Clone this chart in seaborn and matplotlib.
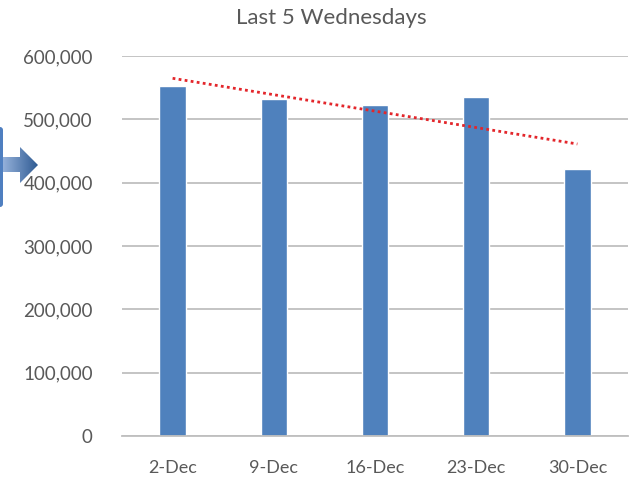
import numpy as np
import pandas as pd
import matplotlib
matplotlib.use("Agg")
import matplotlib.pyplot as plt
import matplotlib.ticker as mticker
from matplotlib.patches import Polygon, FancyBboxPatch
import seaborn as sns

#------------------------------------------------------------------
# data
#------------------------------------------------------------------
dates = ["2-Dec", "9-Dec", "16-Dec", "23-Dec", "30-Dec"]
values = [552600, 532600, 522600, 535300, 421600]
y_ticks = [0, 100000, 200000, 300000, 400000, 500000, 600000]

df = pd.DataFrame({"date": dates, "value": values})

sns.set_style("white")
plt.rcParams["font.family"] = ["Lato", "DejaVu Sans"]

text_col = "#595959"
bar_col = "#4F81BD"
grid_col = "#BFBFBF"

fig = plt.figure(figsize=(6.34, 4.82), dpi=100)

# decoration on the left edge (arrow from the slide)
deco = fig.add_axes([0, 0, 1, 1], zorder=0)
deco.set_xlim(0, 634)
deco.set_ylim(482, 0)
deco.axis("off")
side = FancyBboxPatch((-6, 127), 9, 80, boxstyle="round,pad=0,rounding_size=3",
                      fc="#4F7FC0", ec="none")
deco.add_patch(side)
arrow = Polygon([(0, 157), (20, 157), (20, 147), (38, 165), (20, 183), (20, 172), (0, 172)],
                closed=True, fc="none", ec="none")
deco.add_patch(arrow)
grad = np.linspace(0, 1, 100).reshape(1, -1)
cmap = matplotlib.colors.LinearSegmentedColormap.from_list("arr", ["#9DB8E0", "#2F5B93"])
img = deco.imshow(grad, extent=(0, 38, 183, 147), cmap=cmap, aspect="auto")
img.set_clip_path(arrow)

#------------------------------------------------------------------
# main chart
#------------------------------------------------------------------
ax = fig.add_axes([122 / 634, 46 / 482, 506 / 634, 380 / 482], zorder=1)
ax.patch.set_alpha(0)

sns.barplot(data=df, x="date", y="value", color=bar_col, width=0.26,
            saturation=1, ax=ax, zorder=2)

# linear trendline
xs = np.arange(len(values))
slope, inter = np.polyfit(xs, values, 1)
ax.plot(xs, slope * xs + inter, linestyle=(0, (1, 1.2)), color="#E3262B",
        linewidth=2, zorder=3)

ax.set_xlim(-0.5, len(dates) - 0.5)
ax.set_ylim(0, 600000)
ax.set_yticks(y_ticks)
ax.yaxis.set_major_formatter(mticker.FuncFormatter(lambda v, p: f"{int(v):,}"))
ax.grid(axis="y", color=grid_col, linewidth=1.3, zorder=0)
ax.set_axisbelow(True)

for s in ["top", "right", "left"]:
    ax.spines[s].set_visible(False)
ax.spines["bottom"].set_color(grid_col)
ax.spines["bottom"].set_linewidth(1.3)

ax.set_xticks(np.arange(-0.5, len(dates), 1), minor=True)
ax.tick_params(axis="x", which="minor", length=6, color=grid_col, width=1.2)
ax.tick_params(axis="x", which="major", length=0, pad=17, labelsize=13, labelcolor=text_col)
ax.tick_params(axis="y", length=0, pad=21, labelsize=13.5, labelcolor=text_col)

ax.set_xlabel("")
ax.set_ylabel("")
fig.text(331 / 634, 1 - 18 / 482, "Last 5 Wednesdays", ha="center", va="center",
         fontsize=16, color=text_col)

plt.savefig("out.png", dpi=100)
